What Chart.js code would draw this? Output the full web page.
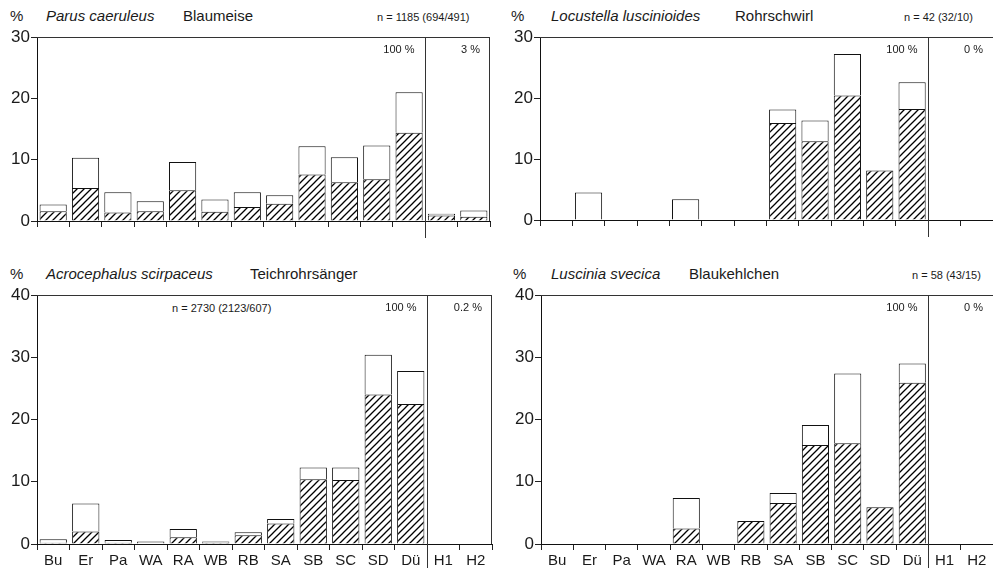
<!DOCTYPE html>
<html>
<head>
<meta charset="utf-8">
<script src="https://cdn.jsdelivr.net/npm/chart.js@4"></script>
<style>
  body { margin: 0; background: #fff; width: 993px; height: 572px; position: relative; overflow: hidden;
         font-family: "Liberation Sans", Arial, sans-serif; color: #1a1a1a; }
  canvas { position: absolute; }
  .t { position: absolute; font-size: 15px; line-height: 18px; white-space: nowrap; }
  .i { font-style: italic; }
  .n { position: absolute; font-size: 11px; line-height: 14px; white-space: nowrap; }
</style>
</head>
<body>
<!-- ── Panel headers ─────────────────────────────────────── -->
<div class="t" style="left:10px;top:7px">%</div>
<div class="t i" style="left:46px;top:7px">Parus caeruleus</div>
<div class="t" style="left:183px;top:7px">Blaumeise</div>
<div class="n" style="left:377px;top:10px">n = 1185 (694/491)</div>

<div class="t" style="left:511px;top:7px">%</div>
<div class="t i" style="left:551px;top:7px">Locustella luscinioides</div>
<div class="t" style="left:735px;top:7px">Rohrschwirl</div>
<div class="n" style="left:904px;top:10px">n = 42 (32/10)</div>

<div class="t" style="left:10px;top:265px">%</div>
<div class="t i" style="left:46px;top:265px">Acrocephalus scirpaceus</div>
<div class="t" style="left:250px;top:265px">Teichrohrsänger</div>
<div class="n" style="left:172px;top:301px">n = 2730 (2123/607)</div>

<div class="t" style="left:513px;top:265px">%</div>
<div class="t i" style="left:551px;top:265px">Luscinia svecica</div>
<div class="t" style="left:689px;top:265px">Blaukehlchen</div>
<div class="n" style="left:912px;top:268px">n = 58 (43/15)</div>

<canvas id="c1" width="496" height="250" style="left:0;top:0"></canvas>
<canvas id="c2" width="497" height="250" style="left:496px;top:0"></canvas>
<canvas id="c3" width="496" height="312" style="left:0;top:260px"></canvas>
<canvas id="c4" width="497" height="312" style="left:496px;top:260px"></canvas>

<script>
// ── Data ──────────────────────────────────────────────────────
const categories = ['Bu', 'Er', 'Pa', 'WA', 'RA', 'WB', 'RB', 'SA', 'SB', 'SC', 'SD', 'Dü', 'H1', 'H2'];

// hatched = lower part, total = full bar height (%)
const parusHatched      = [1.6, 5.4, 1.4, 1.6, 5.0, 1.5, 2.3, 2.8, 7.6, 6.3, 6.8, 14.4, 0.9, 0.7];
const parusTotal        = [2.7, 10.3, 4.7, 3.2, 9.6, 3.5, 4.7, 4.2, 12.2, 10.4, 12.3, 21.0, 1.2, 1.7];

const locustellaHatched = [0, 0, 0, 0, 0, 0, 0, 15.9, 12.9, 20.4, 8.1, 18.2, 0, 0];
const locustellaTotal   = [0, 4.5, 0, 0, 3.4, 0, 0, 18.1, 16.3, 27.2, 8.1, 22.6, 0, 0];

const acroHatched       = [0.2, 2.0, 0.2, 0.1, 1.1, 0.2, 1.4, 3.3, 10.4, 10.3, 24.0, 22.5, 0, 0];
const acroTotal         = [0.75, 6.5, 0.65, 0.4, 2.4, 0.4, 1.9, 4.0, 12.3, 12.3, 30.4, 27.8, 0, 0];

const lusciniaHatched   = [0, 0, 0, 0, 2.5, 0, 3.7, 6.6, 15.9, 16.2, 5.9, 25.9, 0, 0];
const lusciniaTotal     = [0, 0, 0, 0, 7.4, 0, 3.7, 8.2, 19.1, 27.4, 5.9, 29.0, 0, 0];

// share labels left / right of the divider
const shareLeft  = ['100 %', '100 %', '100 %', '100 %'];
const shareRight = ['3 %', '0 %', '0.2 %', '0 %'];

// ── Hatch pattern ─────────────────────────────────────────────
function makeHatch(ctx) {
  const s = 7;
  const c = document.createElement('canvas');
  c.width = s; c.height = s;
  const g = c.getContext('2d');
  g.fillStyle = '#fff';
  g.fillRect(0, 0, s, s);
  g.strokeStyle = '#000';
  g.lineWidth = 1.3;
  g.beginPath();
  g.moveTo(0, s); g.lineTo(s, 0);
  g.moveTo(-1, 1); g.lineTo(1, -1);
  g.moveTo(s - 1, s + 1); g.lineTo(s + 1, s - 1);
  g.stroke();
  return ctx.createPattern(c, 'repeat');
}

// ── Frame, divider and share labels ───────────────────────────
const framePlugin = {
  id: 'frame',
  afterDraw(chart, args, opts) {
    const { ctx, chartArea: a, scales: { x } } = chart;
    ctx.save();
    ctx.strokeStyle = '#333';
    ctx.lineWidth = 1;
    ctx.beginPath();
    ctx.moveTo(a.left, a.top + 0.5);
    ctx.lineTo(a.right, a.top + 0.5);
    if (opts.rightBorder) {
      ctx.moveTo(a.right - 0.5, a.top);
      ctx.lineTo(a.right - 0.5, a.bottom);
    }
    const dx = Math.round((x.getPixelForValue(11) + x.getPixelForValue(12)) / 2) + 0.5;
    ctx.moveTo(dx, a.top);
    ctx.lineTo(dx, a.bottom + opts.divExt);
    ctx.stroke();

    ctx.fillStyle = '#1a1a1a';
    ctx.font = '11px "Liberation Sans", Arial, sans-serif';
    ctx.textAlign = 'right';
    ctx.textBaseline = 'middle';
    ctx.fillText(opts.left, dx - 11, a.top + 13);
    ctx.fillText(opts.right, a.right - 10, a.top + 13);
    ctx.restore();
  }
};

// ── Build one panel ───────────────────────────────────────────
function makePanel(id, hatched, total, cfg) {
  const canvas = document.getElementById(id);
  const ctx = canvas.getContext('2d');
  const upper = total.map(function (t, i) { return Math.max(0, +(t - hatched[i]).toFixed(2)); });

  return new Chart(canvas, {
    type: 'bar',
    data: {
      labels: categories,
      datasets: [
        {
          data: hatched,
          backgroundColor: makeHatch(ctx),
          borderColor: '#111',
          borderWidth: 1,
          borderSkipped: 'start'
        },
        {
          data: upper,
          backgroundColor: '#fff',
          borderColor: '#111',
          borderWidth: 1,
          borderSkipped: 'start'
        }
      ]
    },
    options: {
      responsive: false,
      animation: false,
      events: [],
      barPercentage: 0.84,
      categoryPercentage: 1,
      layout: { padding: { top: cfg.top, right: cfg.right, left: 0, bottom: 0 } },
      plugins: {
        legend: { display: false },
        tooltip: { enabled: false },
        frame: { rightBorder: cfg.rightBorder, divExt: cfg.divExt, left: cfg.shareL, right: cfg.shareR }
      },
      scales: {
        x: {
          stacked: true,
          afterFit: function (s) { s.height = cfg.xh; },
          grid: { offset: true, drawOnChartArea: false, drawTicks: true, tickLength: 6, color: '#222' },
          border: { display: true, color: '#111', width: 1 },
          ticks: {
            display: cfg.labels,
            color: '#1a1a1a',
            padding: 2,
            font: { family: '"Liberation Sans", Arial, sans-serif', size: 15 }
          }
        },
        y: {
          stacked: true,
          min: 0,
          max: cfg.max,
          afterFit: function (s) { s.width = cfg.yw; },
          grid: { drawOnChartArea: false, drawTicks: true, tickLength: 6, color: '#222' },
          border: { display: true, color: '#111', width: 1 },
          ticks: {
            stepSize: 10,
            color: '#1a1a1a',
            padding: 1,
            font: { family: '"Liberation Sans", Arial, sans-serif', size: 17 }
          }
        }
      }
    },
    plugins: [framePlugin]
  });
}

makePanel('c1', parusHatched, parusTotal,
  { top: 37, right: 6, yw: 37, xh: 29, max: 30, labels: false, rightBorder: true, divExt: 17, shareL: shareLeft[0], shareR: shareRight[0] });
makePanel('c2', locustellaHatched, locustellaTotal,
  { top: 37, right: 0, yw: 44, xh: 30, max: 30, labels: false, rightBorder: false, divExt: 17, shareL: shareLeft[1], shareR: shareRight[1] });
makePanel('c3', acroHatched, acroTotal,
  { top: 35, right: 4, yw: 37, xh: 28, max: 40, labels: true, rightBorder: true, divExt: 24, shareL: shareLeft[2], shareR: shareRight[2] });
makePanel('c4', lusciniaHatched, lusciniaTotal,
  { top: 35, right: 0, yw: 45, xh: 28, max: 40, labels: true, rightBorder: false, divExt: 24, shareL: shareLeft[3], shareR: shareRight[3] });
</script>
</body>
</html>
